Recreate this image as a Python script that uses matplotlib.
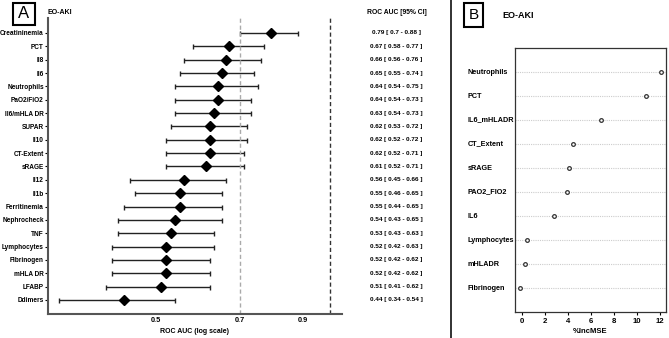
import matplotlib
matplotlib.use("Agg")
import matplotlib.pyplot as plt
from matplotlib.patches import Rectangle
from matplotlib.lines import Line2D
import matplotlib.transforms as mtrans

plt.rcParams['font.family'] = ['Liberation Sans', 'DejaVu Sans']

# Panel A data
markers_a = ["Creatininemia", "PCT", "Il8", "Il6", "Neutrophils", "PaO2/FiO2",
             "Il6/mHLA DR", "SUPAR", "Il10", "CT-Extent", "sRAGE", "Il12", "Il1b",
             "Ferritinemia", "Nephrocheck", "TNF", "Lymphocytes", "Fibrinogen",
             "mHLA DR", "LFABP", "Ddimers"]
auc = [0.79, 0.67, 0.66, 0.65, 0.64, 0.64, 0.63, 0.62, 0.62, 0.62, 0.61,
       0.56, 0.55, 0.55, 0.54, 0.53, 0.52, 0.52, 0.52, 0.51, 0.44]
ci_low = [0.7, 0.58, 0.56, 0.55, 0.54, 0.54, 0.54, 0.53, 0.52, 0.52, 0.52,
          0.45, 0.46, 0.44, 0.43, 0.43, 0.42, 0.42, 0.42, 0.41, 0.34]
ci_high = [0.88, 0.77, 0.76, 0.74, 0.75, 0.73, 0.73, 0.72, 0.72, 0.71, 0.71,
           0.66, 0.65, 0.65, 0.65, 0.63, 0.63, 0.62, 0.62, 0.62, 0.54]
ci_text = ["0.79 [ 0.7 - 0.88 ]", "0.67 [ 0.58 - 0.77 ]", "0.66 [ 0.56 - 0.76 ]",
           "0.65 [ 0.55 - 0.74 ]", "0.64 [ 0.54 - 0.75 ]", "0.64 [ 0.54 - 0.73 ]",
           "0.63 [ 0.54 - 0.73 ]", "0.62 [ 0.53 - 0.72 ]", "0.62 [ 0.52 - 0.72 ]",
           "0.62 [ 0.52 - 0.71 ]", "0.61 [ 0.52 - 0.71 ]", "0.56 [ 0.45 - 0.66 ]",
           "0.55 [ 0.46 - 0.65 ]", "0.55 [ 0.44 - 0.65 ]", "0.54 [ 0.43 - 0.65 ]",
           "0.53 [ 0.43 - 0.63 ]", "0.52 [ 0.42 - 0.63 ]", "0.52 [ 0.42 - 0.62 ]",
           "0.52 [ 0.42 - 0.62 ]", "0.51 [ 0.41 - 0.62 ]", "0.44 [ 0.34 - 0.54 ]"]
xticks_a = [0.5, 0.7, 0.9]

# Panel B data
markers_b = ["Neutrophils", "PCT", "IL6_mHLADR", "CT_Extent", "sRAGE",
             "PAO2_FIO2", "IL6", "Lymphocytes", "mHLADR", "Fibrinogen"]
incmse = [12.05, 10.8, 6.85, 4.45, 4.1, 3.9, 2.8, 0.45, 0.25, -0.2]
xticks_b = [0, 2, 4, 6, 8, 10, 12]

W, H = 669, 338
fig = plt.figure(figsize=(W / 100, H / 100), dpi=100)

def fx(px):
    return px / W

def fy(py):
    return 1 - py / H

# ---------- Panel A ----------
axA = fig.add_axes([fx(48), fy(314), fx(342) - fx(48), fy(18) - fy(314)])
ys = list(range(len(markers_a)))
xerr = [[a - l for a, l in zip(auc, ci_low)], [h - a for a, h in zip(auc, ci_high)]]
axA.errorbar(auc, ys, xerr=xerr, fmt='D', color='black', ecolor='#222222',
             markersize=5, elinewidth=1.0, capsize=1.8, capthick=1.0)
axA.set_xscale('log')
axA.set_xlim(0.325, 1.05)
axA.set_ylim(len(markers_a) + 0.05, -1.12)
axA.axvline(0.7, color='#aaaaaa', linestyle='--', linewidth=1.0, dashes=(3, 2))
axA.axvline(1.0, color='#333333', linestyle='--', linewidth=1.0, dashes=(3, 2))
axA.set_xticks(xticks_a)
axA.set_xticklabels([str(t) for t in xticks_a])
axA.xaxis.set_minor_locator(matplotlib.ticker.NullLocator())
axA.set_yticks(ys)
axA.set_yticklabels(markers_a)
for s in ['top', 'right']:
    axA.spines[s].set_visible(False)
for s in ['left', 'bottom']:
    axA.spines[s].set_color('#555555')
    axA.spines[s].set_linewidth(1.5)
axA.tick_params(axis='y', length=2, width=0.8, pad=1, labelsize=4.7)
axA.tick_params(axis='x', length=0, pad=2, labelsize=5.3)
for lab in axA.get_yticklabels() + axA.get_xticklabels():
    lab.set_fontweight('bold')
axA.set_xlabel("ROC AUC (log scale)", fontsize=5.0, fontweight='bold', labelpad=3)

tA = mtrans.blended_transform_factory(fig.transFigure, axA.transData)
for i, t in enumerate(ci_text):
    axA.text(fx(396), i, t, transform=tA, ha='center', va='center',
             fontsize=4.6, fontweight='bold')
fig.text(fx(397), fy(12), "ROC AUC [95% CI]", ha='center', va='center',
         fontsize=4.9, fontweight='bold')
fig.text(fx(48), fy(12), "EO-AKI", ha='left', va='center', fontsize=5.0, fontweight='bold')
fig.patches.append(Rectangle((fx(13), fy(25)), fx(35) - fx(13), fy(3) - fy(25),
                             transform=fig.transFigure, fill=False,
                             edgecolor='black', linewidth=1.5))
fig.text(fx(24), fy(14), "A", ha='center', va='center', fontsize=12)

# ---------- Panel B ----------
axB = fig.add_axes([fx(515), fy(312), fx(666) - fx(515), fy(48) - fy(312)])
yb = list(range(len(markers_b)))
for y in yb:
    axB.axhline(y, color='#cccccc', linestyle=(0, (1, 1)), linewidth=0.8, zorder=1)
axB.scatter(incmse, yb, s=7, facecolors='white', edgecolors='#333333',
            linewidths=0.9, zorder=3)
axB.set_xlim(-0.6, 12.5)
axB.set_ylim(len(markers_b), -1)
axB.set_xticks(xticks_b)
axB.set_xticklabels([str(t) for t in xticks_b])
axB.set_yticks([])
axB.tick_params(axis='x', length=2.5, width=0.8, pad=2, labelsize=5.6)
for lab in axB.get_xticklabels():
    lab.set_fontweight('bold')
for s in axB.spines.values():
    s.set_color('#333333')
    s.set_linewidth(0.9)
axB.set_xlabel("%IncMSE", fontsize=5.5, fontweight='bold', labelpad=2)
tB = mtrans.blended_transform_factory(fig.transFigure, axB.transData)
for y, m in zip(yb, markers_b):
    axB.text(fx(468), y, m, transform=tB, ha='left', va='center',
             fontsize=5.2, fontweight='bold', clip_on=False)

fig.text(fx(502), fy(16), "EO-AKI", ha='left', va='center', fontsize=6.5,
         fontweight='bold')
fig.patches.append(Rectangle((fx(464), fy(27)), fx(483) - fx(464), fy(3) - fy(27),
                             transform=fig.transFigure, fill=False,
                             edgecolor='black', linewidth=1.5))
fig.text(fx(473.5), fy(15), "B", ha='center', va='center', fontsize=11)

fig.lines.append(Line2D([fx(451), fx(451)], [0, 1], transform=fig.transFigure,
                        color='#222222', linewidth=1.3))

fig.savefig("out.png", dpi=100)
